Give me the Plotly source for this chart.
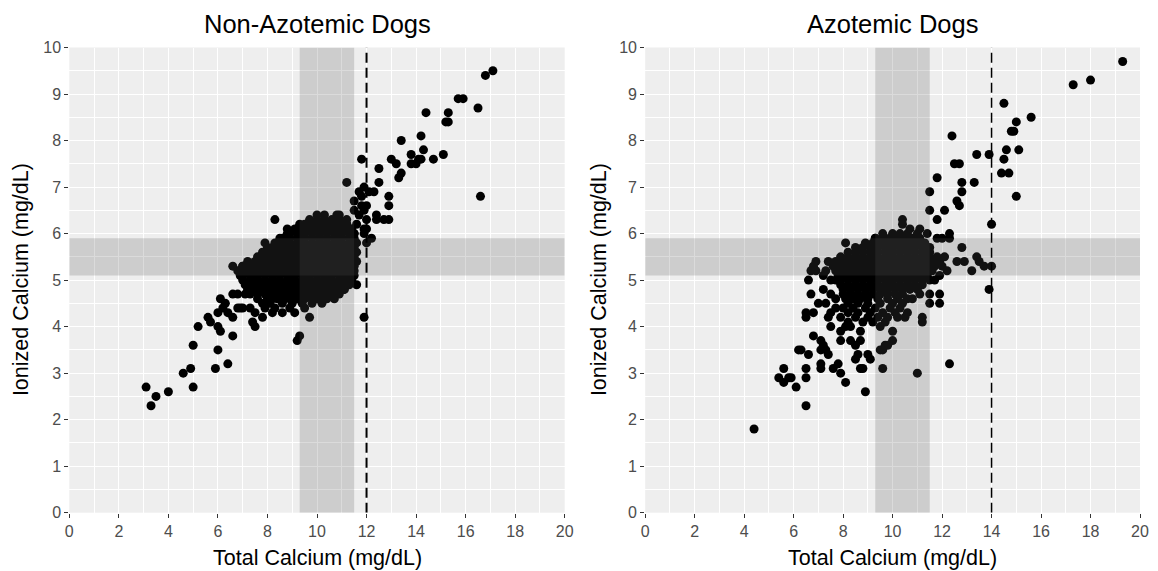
import plotly.graph_objects as go

# ---------------- data ----------------
# Non-azotemic dogs: scattered points (total Ca, ionized Ca)
nonaz_points = [
    (17.1, 9.5), (16.8, 9.4), (15.7, 8.9), (15.9, 8.9), (16.5, 8.7), (14.4, 8.6), (15.3, 8.6),
    (15.2, 8.4), (15.3, 8.4), (13.4, 8.0), (14.2, 8.1), (14.3, 7.8), (13.8, 7.7), (15.1, 7.7),
    (13.0, 7.6), (13.2, 7.5), (13.8, 7.5), (14.0, 7.5), (14.1, 7.6), (14.2, 7.6), (14.7, 7.6),
    (13.4, 7.3), (13.3, 7.2), (12.5, 7.4), (11.8, 7.6), (16.6, 6.8), (11.2, 7.1), (11.9, 7.0),
    (12.5, 7.1), (12.1, 6.9), (12.3, 6.9), (11.7, 6.9), (12.9, 6.8), (12.9, 6.6), (11.5, 6.7),
    (11.8, 6.8), (12.0, 6.6), (11.9, 6.5), (11.5, 6.5), (12.4, 6.4), (12.4, 6.3), (12.9, 6.3),
    (12.7, 6.3), (12.0, 6.3), (11.9, 6.1), (11.6, 6.2), (12.0, 6.1), (12.0, 5.8), (12.2, 5.9),
    (11.9, 6.0), (11.7, 6.4), (11.8, 6.6),
    (3.1, 2.7), (3.3, 2.3), (3.5, 2.5), (4.0, 2.6), (4.6, 3.0), (4.9, 3.1), (5.0, 2.7),
    (5.0, 3.6), (5.2, 4.0), (5.6, 4.2), (5.7, 4.1), (5.9, 3.1), (6.0, 3.5), (6.0, 4.0),
    (6.1, 3.9), (6.4, 3.2), (6.6, 3.8), (6.0, 4.3), (6.1, 4.6), (6.3, 4.5), (6.4, 4.3),
    (6.2, 4.4), (6.6, 4.2), (9.2, 3.7), (9.3, 3.8), (9.7, 4.2), (11.9, 4.2), (11.6, 4.9),
    (10.7, 4.6), (7.4, 4.1), (7.5, 4.0), (7.5, 4.3), (9.1, 4.3), (8.2, 4.3), (8.6, 4.3),
    (6.9, 4.4), (7.8, 4.5), (8.2, 4.6), (8.7, 4.6), (10.0, 4.6), (10.3, 4.6), (11.1, 4.8),
    (7.3, 4.4), (7.0, 4.4), (6.8, 4.4), (7.8, 4.2), (7.1, 4.7), (6.8, 4.7), (6.6, 4.7),
    (8.3, 6.3), (9.3, 6.2), (10.0, 6.4), (10.3, 6.4), (10.8, 6.4), (10.9, 6.4),
    (6.6, 5.3), (7.0, 5.3), (6.9, 5.1), (7.9, 5.8), (8.0, 5.7), (8.5, 5.9), (8.8, 6.0),
    (8.8, 6.1), (9.2, 6.1), (11.2, 6.2), (11.5, 6.0), (11.5, 5.8),
]

# Non-azotemic dogs: dense central cloud, one row per ionized Ca value
nonaz_cloud_ica = [6.3, 6.2, 6.1, 6.0, 5.9, 5.8, 5.7, 5.6, 5.5, 5.4, 5.3, 5.2, 5.1, 5.0,
                   4.9, 4.8, 4.7, 4.6, 4.5, 4.4]
nonaz_cloud_tca = [
    [9.7, 10.0, 10.3, 10.6, 10.9, 11.2],
    [9.5, 9.8, 10.1, 10.4, 10.7, 11.0, 11.2],
    [9.1, 9.4, 9.7, 10.0, 10.3, 10.6, 10.9, 11.2, 11.4],
    [8.9, 9.2, 9.5, 9.8, 10.1, 10.4, 10.7, 11.0, 11.3, 11.5],
    [8.6, 8.9, 9.2, 9.5, 9.8, 10.1, 10.4, 10.7, 11.0, 11.3, 11.5],
    [8.3, 8.6, 8.9, 9.2, 9.5, 9.8, 10.1, 10.4, 10.7, 11.0, 11.3, 11.6],
    [8.2, 8.5, 8.8, 9.1, 9.4, 9.7, 10.0, 10.3, 10.6, 10.9, 11.2, 11.5],
    [7.8, 8.1, 8.4, 8.7, 9.0, 9.3, 9.6, 9.9, 10.2, 10.5, 10.8, 11.1, 11.4, 11.6],
    [7.6, 7.9, 8.2, 8.5, 8.8, 9.1, 9.4, 9.7, 10.0, 10.3, 10.6, 10.9, 11.2, 11.5],
    [7.2, 7.5, 7.8, 8.1, 8.4, 8.7, 9.0, 9.3, 9.6, 9.9, 10.2, 10.5, 10.8, 11.1, 11.4, 11.6],
    [7.0, 7.3, 7.6, 7.9, 8.2, 8.5, 8.8, 9.1, 9.4, 9.7, 10.0, 10.3, 10.6, 10.9, 11.2, 11.5],
    [6.8, 7.1, 7.4, 7.7, 8.0, 8.3, 8.6, 8.9, 9.2, 9.5, 9.8, 10.1, 10.4, 10.7, 11.0, 11.3, 11.5],
    [7.0, 7.3, 7.6, 7.9, 8.2, 8.5, 8.8, 9.1, 9.4, 9.7, 10.0, 10.3, 10.6, 10.9, 11.2, 11.5],
    [7.0, 7.3, 7.6, 7.9, 8.2, 8.5, 8.8, 9.1, 9.4, 9.7, 10.0, 10.3, 10.6, 10.9, 11.2, 11.4],
    [7.1, 7.4, 7.7, 8.0, 8.3, 8.6, 8.9, 9.2, 9.5, 9.8, 10.1, 10.4, 10.7, 11.0, 11.3],
    [7.2, 7.5, 7.8, 8.1, 8.4, 8.7, 9.0, 9.3, 9.6, 9.9, 10.2, 10.5, 10.8, 11.1],
    [7.3, 7.6, 7.9, 8.2, 8.5, 8.8, 9.1, 9.4, 9.7, 10.0, 10.3, 10.6, 10.9],
    [7.6, 8.0, 8.4, 8.9, 9.2, 9.5, 9.8, 10.1, 10.4],
    [8.1, 8.6, 9.0, 9.4, 9.8, 10.2],
    [7.9, 8.3, 8.9, 9.5],
]

# Azotemic dogs: scattered points (total Ca, ionized Ca)
az_points = [
    (19.3, 9.7), (18.0, 9.3), (17.3, 9.2), (14.5, 8.8), (15.6, 8.5), (15.0, 8.4), (14.8, 8.2),
    (14.9, 8.2), (12.4, 8.1), (14.6, 7.8), (15.1, 7.8), (13.4, 7.7), (13.9, 7.7), (14.5, 7.6),
    (12.5, 7.5), (12.7, 7.5), (14.4, 7.3), (14.7, 7.3), (11.8, 7.2), (12.8, 7.1), (13.3, 7.1),
    (12.8, 6.9), (11.5, 6.9), (15.0, 6.8), (12.6, 6.7), (12.7, 6.6), (11.5, 6.5), (12.1, 6.5),
    (11.8, 6.3), (14.0, 6.2), (10.4, 6.3), (10.4, 6.2), (10.7, 6.1), (11.1, 6.1), (11.4, 6.0),
    (12.3, 6.0), (12.3, 5.9), (11.8, 5.9), (12.0, 5.9), (12.8, 5.7), (12.6, 5.4), (12.9, 5.4),
    (13.4, 5.5), (13.5, 5.4), (13.7, 5.3), (14.0, 5.3), (13.2, 5.2), (12.1, 5.5), (12.2, 5.2),
    (12.0, 5.3), (11.9, 5.1), (11.7, 5.0), (13.9, 4.8),
    (8.1, 5.8), (9.3, 5.9), (9.7, 5.9), (6.6, 5.0), (6.9, 5.4), (6.8, 5.3), (7.3, 5.2),
    (7.6, 5.3), (6.7, 5.2), (6.9, 5.2), (7.5, 5.0), (7.7, 5.0), (7.2, 5.1), (7.4, 5.4),
    (6.7, 4.7), (7.2, 4.8), (7.0, 4.5), (7.3, 4.5), (7.5, 4.7), (7.7, 4.6),
    (4.4, 1.8), (6.5, 2.3), (6.1, 2.7), (5.4, 2.9), (5.6, 2.8), (5.8, 2.9), (5.6, 3.1),
    (5.9, 2.9), (6.5, 2.9), (6.5, 3.1), (6.2, 3.5), (6.3, 3.5), (6.6, 3.4), (7.1, 3.2),
    (7.1, 3.1), (7.6, 3.1), (7.8, 3.2), (7.9, 3.0), (8.1, 2.8), (8.9, 2.6), (8.7, 3.1),
    (8.8, 3.1), (8.5, 3.3), (8.6, 3.4), (9.0, 3.4), (9.1, 3.3), (9.6, 3.1), (11.0, 3.0),
    (12.3, 3.2), (7.1, 3.5), (7.3, 3.5), (7.4, 3.4), (6.8, 3.8), (7.1, 3.7), (7.2, 3.6),
    (7.9, 3.7), (8.3, 3.7), (8.7, 3.7), (8.5, 3.6), (9.6, 3.5), (9.8, 3.6), (10.0, 3.7),
    (9.5, 4.0), (10.0, 3.9), (6.5, 4.2), (6.5, 4.3), (6.8, 4.3), (7.4, 4.2), (7.5, 4.3),
    (7.7, 4.4), (8.0, 4.4), (7.5, 4.0), (7.9, 3.9), (8.1, 4.0), (8.3, 4.0), (8.7, 3.9),
    (8.8, 4.1), (10.2, 4.2), (10.5, 4.2), (11.2, 4.2), (11.2, 4.1), (10.8, 4.6), (11.1, 4.7),
    (11.5, 4.5), (11.9, 4.5), (11.9, 4.7), (11.5, 4.7), (9.5, 3.5), (9.7, 3.6),
]

# Azotemic dogs: dense central cloud, one row per ionized Ca value
az_cloud_ica = [6.0, 5.9, 5.8, 5.7, 5.6, 5.5, 5.4, 5.3, 5.2, 5.1, 5.0, 4.9, 4.8, 4.7,
                4.6, 4.5, 4.4, 4.3, 4.2, 4.1]
az_cloud_tca = [
    [9.6, 10.0, 10.3, 10.6, 11.0],
    [9.3, 9.6, 9.9, 10.2, 10.5, 10.8, 11.1],
    [8.9, 9.2, 9.5, 9.8, 10.1, 10.4, 10.7, 11.0, 11.3],
    [8.5, 8.8, 9.1, 9.4, 9.7, 10.0, 10.3, 10.6, 10.9, 11.2, 11.5],
    [8.2, 8.5, 8.8, 9.1, 9.4, 9.7, 10.0, 10.3, 10.6, 10.9, 11.2, 11.5],
    [7.9, 8.2, 8.5, 8.8, 9.1, 9.4, 9.7, 10.0, 10.3, 10.6, 10.9, 11.2, 11.5, 11.8],
    [7.7, 8.0, 8.3, 8.6, 8.9, 9.2, 9.5, 9.8, 10.1, 10.4, 10.7, 11.0, 11.3, 11.6, 11.9],
    [7.8, 8.1, 8.4, 8.7, 9.0, 9.3, 9.6, 9.9, 10.2, 10.5, 10.8, 11.1, 11.4, 11.7],
    [7.7, 8.0, 8.3, 8.6, 8.9, 9.2, 9.5, 9.8, 10.1, 10.4, 10.7, 11.0, 11.3, 11.6],
    [7.8, 8.1, 8.4, 8.7, 9.0, 9.3, 9.6, 9.9, 10.2, 10.5, 10.8, 11.1, 11.4],
    [7.9, 8.2, 8.5, 8.8, 9.1, 9.4, 9.7, 10.0, 10.3, 10.6, 10.9, 11.2, 11.5],
    [7.9, 8.2, 8.5, 8.8, 9.1, 9.4, 9.7, 10.0, 10.3, 10.6, 10.9, 11.2],
    [8.0, 8.3, 8.6, 8.9, 9.2, 9.5, 9.8, 10.1, 10.4, 10.7, 11.0],
    [8.0, 8.3, 8.6, 8.9, 9.2, 9.5, 9.8, 10.1, 10.4],
    [8.1, 8.4, 8.7, 9.0, 9.4, 9.8, 10.2, 10.6],
    [8.2, 8.6, 9.0, 9.5, 10.0, 10.4],
    [8.4, 8.9, 9.3, 9.9, 10.3],
    [8.2, 8.6, 9.1, 9.6, 10.1, 10.6],
    [7.9, 8.5, 9.0, 9.4, 9.8],
    [8.2, 9.2, 9.7],
]

panel_titles = ["Non-Azotemic Dogs", "Azotemic Dogs"]
x_title = "Total Calcium (mg/dL)"
y_title = "Ionized Calcium (mg/dL)"
tca_ref_range = [9.3, 11.5]
ica_ref_range = [5.1, 5.9]
cutoffs = [12, 14]
x_ticks = [0, 2, 4, 6, 8, 10, 12, 14, 16, 18, 20]
y_ticks = [0, 1, 2, 3, 4, 5, 6, 7, 8, 9, 10]


def collect(points, cloud_ica, cloud_tca):
    xs = [p[0] for p in points]
    ys = [p[1] for p in points]
    for ica, row in zip(cloud_ica, cloud_tca):
        for t in row:
            xs.append(t)
            ys.append(ica)
    return xs, ys


panels = [collect(nonaz_points, nonaz_cloud_ica, nonaz_cloud_tca),
          collect(az_points, az_cloud_ica, az_cloud_tca)]

# ---------------- layout ----------------
# the page body has an 8px margin, so the figure is placed at (8, 8) in the window
OFF = 8
W, H = 1158 - OFF, 571 - OFF


def px(p):
    return (p - OFF) / W


def py(p):
    return 1 - (p - OFF) / H


x_domains = [[px(69.3), px(564.7)], [px(645.2), px(1140.0)]]
y_domain = [py(512.7), py(47.5)]
FONT = "Arial, Liberation Sans, Helvetica, sans-serif"
BG = "#EEEEEE"
BAND = "rgba(85,85,85,0.21)"

fig = go.Figure()
for i, (xs, ys) in enumerate(panels):
    sfx = "" if i == 0 else "2"
    fig.add_trace(go.Scatter(
        x=xs, y=ys, mode="markers", xaxis="x" + sfx, yaxis="y" + sfx,
        marker=dict(size=9, color="black", line=dict(width=0)),
        showlegend=False, hoverinfo="x+y"))

axis_common = dict(
    showline=False, zeroline=False, ticks="outside", ticklen=4, tickwidth=1.3,
    tickcolor="#333333", gridcolor="white", gridwidth=1.4, automargin=False,
    tickfont=dict(family=FONT, size=16, color="#4D4D4D"),
    fixedrange=True,
)

layout = dict(
    width=W, height=H, autosize=False,
    margin=dict(l=0, r=0, t=0, b=0, pad=0, autoexpand=False),
    paper_bgcolor="white", plot_bgcolor=BG,
    font=dict(family=FONT),
    showlegend=False,
)
for i in range(2):
    sfx = "" if i == 0 else "2"
    xa = dict(axis_common)
    xa.update(domain=x_domains[i], range=[0, 20], tickvals=x_ticks,
              ticktext=[str(v) for v in x_ticks], anchor="y" + sfx,
              minor=dict(showgrid=True, gridcolor="white", gridwidth=0.6, dtick=1, tick0=0, ticks=""))
    ya = dict(axis_common)
    ya.update(domain=y_domain, range=[0, 10], tickvals=y_ticks,
              ticktext=[str(v) for v in y_ticks], anchor="x" + sfx,
              minor=dict(showgrid=True, gridcolor="white", gridwidth=0.6, dtick=0.5, tick0=0, ticks=""))
    layout["xaxis" + sfx] = xa
    layout["yaxis" + sfx] = ya
fig.update_layout(**layout)

shapes = []
annotations = []
for i in range(2):
    sfx = "" if i == 0 else "2"
    xr, yr = "x" + sfx, "y" + sfx
    # reference-interval bands (drawn above points, semi-transparent)
    shapes.append(dict(type="rect", xref=xr, yref=yr, x0=tca_ref_range[0], x1=tca_ref_range[1],
                       y0=0, y1=10, fillcolor=BAND, line=dict(width=0), layer="above"))
    shapes.append(dict(type="rect", xref=xr, yref=yr, x0=0, x1=20,
                       y0=ica_ref_range[0], y1=ica_ref_range[1], fillcolor=BAND,
                       line=dict(width=0), layer="above"))
    shapes.append(dict(type="line", xref=xr, yref=yr, x0=cutoffs[i], x1=cutoffs[i], y0=0, y1=10,
                       line=dict(color="black", width=2.0 if i == 0 else 1.5, dash="10px,5px"),
                       layer="above"))
    cx = (x_domains[i][0] + x_domains[i][1]) / 2
    annotations.append(dict(text=panel_titles[i], xref="paper", yref="paper", x=cx, y=py(24),
                            xanchor="center", yanchor="middle", showarrow=False,
                            font=dict(family=FONT, size=25.5, color="black")))
    annotations.append(dict(text=x_title, xref="paper", yref="paper", x=cx, y=py(558),
                            xanchor="center", yanchor="middle", showarrow=False,
                            font=dict(family=FONT, size=21.5, color="black")))
    yx = px(21) if i == 0 else px(599)
    annotations.append(dict(text=y_title, xref="paper", yref="paper", x=yx,
                            y=(y_domain[0] + y_domain[1]) / 2, textangle=-90,
                            xanchor="center", yanchor="middle", showarrow=False,
                            font=dict(family=FONT, size=21.5, color="black")))
fig.update_layout(shapes=shapes, annotations=annotations)

fig.write_html("out.html")
